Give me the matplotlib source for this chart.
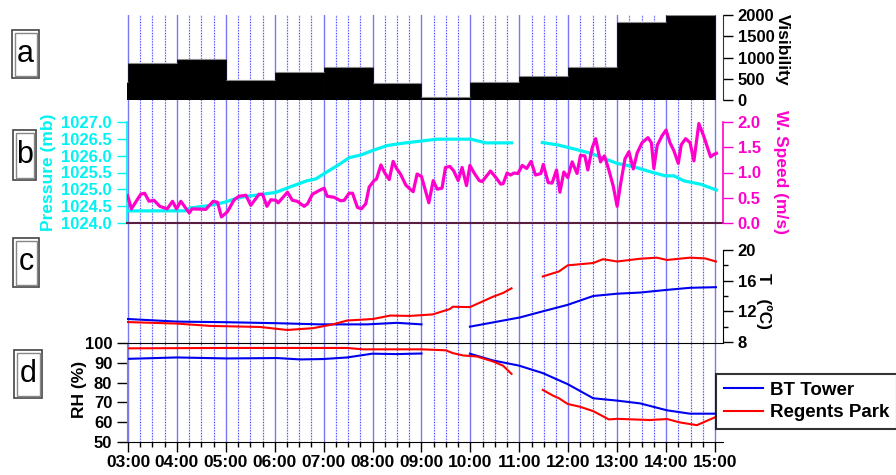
import numpy as np
import matplotlib
matplotlib.use('Agg')
import matplotlib.pyplot as plt
from matplotlib.patches import Rectangle
from matplotlib.ticker import MultipleLocator, FixedLocator, FormatStrFormatter

plt.rcParams['font.family'] = ['Liberation Sans', 'DejaVu Sans']
plt.rcParams['font.weight'] = 'bold'
plt.rcParams['axes.labelweight'] = 'bold'

# ---------------- data ----------------
hour_ticks = [3, 4, 5, 6, 7, 8, 9, 10, 11, 12, 13, 14, 15]
xtick_labels = ['03:00', '04:00', '05:00', '06:00', '07:00', '08:00', '09:00',
                '10:00', '11:00', '12:00', '13:00', '14:00', '15:00']

vis_hours = [2, 3, 4, 5, 6, 7, 8, 9, 10, 11, 12, 13, 14]
visibility = [420, 860, 960, 465, 667, 767, 410, 80, 420, 565, 767, 1845, 2000]

ws_time = [2.99, 3.07, 3.26, 3.34, 3.43, 3.53, 3.65, 3.80, 3.91, 3.99, 4.08, 4.25, 4.31,
           4.59, 4.74, 4.83, 4.91, 5.03, 5.17, 5.27, 5.41, 5.51, 5.68, 5.75, 5.84, 5.92,
           6.02, 6.07, 6.26, 6.36, 6.46, 6.60, 6.67, 6.77, 6.90, 7.01, 7.07, 7.21, 7.35,
           7.42, 7.52, 7.59, 7.69, 7.77, 7.86, 7.93, 8.03, 8.08, 8.17, 8.25, 8.34, 8.42,
           8.49, 8.57, 8.68, 8.78, 8.83, 8.91, 9.00, 9.15, 9.24, 9.32, 9.42, 9.49, 9.58,
           9.66, 9.75, 9.83, 9.92, 9.99, 10.07, 10.18, 10.24, 10.41, 10.52, 10.62, 10.67,
           10.75, 10.82, 10.89, 10.97, 11.06, 11.15, 11.24, 11.33, 11.44, 11.49, 11.59,
           11.67, 11.76, 11.83, 11.91, 11.99, 12.08, 12.18, 12.25, 12.34, 12.40, 12.49,
           12.56, 12.66, 12.74, 12.83, 12.92, 13.00, 13.07, 13.16, 13.24, 13.33, 13.41,
           13.51, 13.63, 13.70, 13.75, 13.82, 13.92, 14.00, 14.08, 14.16, 14.25, 14.31,
           14.40, 14.49, 14.57, 14.67, 14.77, 14.91, 14.98, 15.03]
wind_speed = [0.54, 0.28, 0.57, 0.59, 0.43, 0.45, 0.33, 0.28, 0.43, 0.28, 0.43, 0.20, 0.28,
              0.27, 0.43, 0.41, 0.12, 0.22, 0.46, 0.53, 0.55, 0.35, 0.57, 0.57, 0.33, 0.46,
              0.45, 0.40, 0.61, 0.45, 0.43, 0.33, 0.38, 0.57, 0.64, 0.69, 0.53, 0.51, 0.44,
              0.45, 0.59, 0.59, 0.31, 0.28, 0.38, 0.71, 0.84, 0.87, 1.15, 0.99, 0.86, 1.22,
              1.08, 0.97, 0.75, 0.66, 0.62, 0.97, 0.92, 0.40, 0.84, 0.67, 0.69, 1.10, 1.12,
              1.03, 0.84, 1.10, 0.74, 1.14, 1.00, 0.84, 0.82, 1.03, 0.90, 0.77, 0.78,
              0.99, 0.95, 0.99, 0.98, 1.14, 1.08, 1.22, 0.95, 0.98, 1.16, 0.80,
              0.79, 1.05, 0.61, 1.01, 0.90, 1.21, 0.98, 1.34, 1.33, 1.05, 1.49,
              1.67, 1.21, 1.33, 1.05, 0.73, 0.33, 0.77, 1.27, 1.41, 1.07, 1.39,
              1.59, 1.69, 1.59, 1.08, 1.54, 1.73, 1.84, 1.59, 1.43, 1.18, 1.55,
              1.67, 1.59, 1.23, 1.97, 1.72, 1.31, 1.36, 1.38]

p_time = [2.97, 4.17, 4.28, 4.62, 4.96, 5.17, 5.37, 5.64, 6.02, 6.33, 6.67, 6.84, 7.07,
          7.35, 7.52, 7.76, 8.03, 8.30, 8.57, 8.85, 9.32, 10.01, 10.31, 10.84, 11.2,
          11.47, 11.78, 12.12, 12.46, 12.73, 13.00, 13.34, 13.68, 13.99, 14.16, 14.37,
          14.71, 15.03]
pressure = [1024.36, 1024.36, 1024.45, 1024.51, 1024.61, 1024.71, 1024.78, 1024.83,
            1024.91, 1025.08, 1025.26, 1025.31, 1025.52, 1025.77, 1025.94, 1026.02,
            1026.17, 1026.30, 1026.36, 1026.41, 1026.49, 1026.49, 1026.38, 1026.38, np.nan,
            1026.39, 1026.32, 1026.20, 1026.07, 1025.92, 1025.77, 1025.67, 1025.52,
            1025.40, 1025.40, 1025.25, 1025.15, 1024.98]

tbt_time = [3.00, 4.00, 5.02, 6.05, 6.92, 7.89, 8.50, 9.00, 9.5, 9.99, 11.01, 11.48,
            11.99, 12.51, 13.00, 13.47, 14.02, 14.49, 15.02]
temp_bt = [11.0, 10.66, 10.58, 10.45, 10.3, 10.3, 10.5, 10.3, np.nan, 10.0, 11.2, 12.0,
           12.85, 14.0, 14.3, 14.45, 14.8, 15.07, 15.15]

trp_time = [3.00, 4.00, 4.68, 5.70, 6.25, 6.78, 7.19, 7.48, 8.01, 8.36, 8.76, 9.23, 9.58,
            9.64, 9.99, 10.46, 10.67, 10.84, 11.2, 11.48, 11.81, 11.99, 12.51, 12.71,
            13.00, 13.47, 13.81, 14.02, 14.49, 14.80, 15.02]
temp_rp = [10.6, 10.4, 10.1, 9.96, 9.57, 9.8, 10.3, 10.8, 11.0, 11.45, 11.4, 11.6, 12.3,
           12.6, 12.55, 13.9, 14.4, 15.0, np.nan, 16.55, 17.2, 18.0, 18.3, 18.8,
           18.5, 18.86, 19.0, 18.7, 19.0, 18.9, 18.5]

rhbt_time = [3.00, 4.00, 5.02, 6.05, 6.52, 6.99, 7.48, 7.99, 8.50, 9.00, 9.5, 9.99, 10.46,
             10.99, 11.48, 11.99, 12.51, 13.00, 13.47, 14.02, 14.49, 15.02]
rh_bt = [92.0, 92.7, 92.2, 92.4, 91.7, 91.9, 92.7, 94.6, 94.4, 94.7, np.nan, 94.6, 91.2,
         88.6, 84.8, 79.2, 72.1, 70.9, 69.5, 66.0, 64.3, 64.3]

rhrp_time = [3.00, 5.00, 7.48, 7.80, 9.01, 9.50, 9.64, 9.85, 10.13, 10.46, 10.67, 10.84,
             11.2, 11.48, 11.69, 11.81, 11.99, 12.24, 12.51, 12.83, 13.00, 13.67, 14.02,
             14.28, 14.63, 15.02]
rh_rp = [97.3, 97.5, 97.5, 96.8, 96.8, 96.3, 94.9, 93.7, 93.2, 90.7, 88.5, 84.4,
         np.nan, 76.3, 73.4, 72.1, 69.2, 67.8, 65.6, 61.4, 61.7, 61.1, 61.6,
         59.9, 58.5, 62.7]

# ---------------- layout ----------------
W, H = 896, 475
fig = plt.figure(figsize=(W / 100, H / 100), dpi=100)
L, R = 126.5, 723
XMIN, XMAX = 2.969, 15.164


def fx(x):
    return x / W


def fy(y):
    return 1 - y / H


def add_ax(top, bottom, **kw):
    return fig.add_axes([fx(L), fy(bottom), (R - L) / W, (bottom - top) / H], **kw)


CYAN = '#00f2f2'
MAG = '#ff00cc'
BLUE = '#0000ee'
RED = '#ff0000'
TS = 12

# background grid
ax_g = add_ax(15, 442)
ax_g.set_xlim(XMIN, XMAX)
ax_g.set_ylim(0, 1)
ax_g.axis('off')
for h in np.arange(3, 15.01, 0.25):
    if abs(h - round(h)) < 1e-6:
        ax_g.axvline(h, color='#7878f2', lw=1.0)
    else:
        ax_g.axvline(h, color='#dcdcff', lw=1.0)
        ax_g.axvline(h, color='#4a4aff', lw=0.8, ls=(0, (1, 1.5)))


def common(ax):
    ax.set_xlim(XMIN, XMAX)
    ax.set_facecolor('none')
    ax.tick_params(axis='x', which='both', bottom=False, top=False, labelbottom=False)


# panel a
ax_a = add_ax(15, 100)
common(ax_a)
ax_a.bar(vis_hours, visibility, width=1, align='edge', color='black',
         edgecolor='black', linewidth=0.5, zorder=3)
ax_a.hlines(visibility, vis_hours, np.array(vis_hours) + 1, color='#8a8a8a',
            lw=0.8, zorder=4)
ax_a.set_ylim(0, 2000)
for s in ['left', 'top', 'bottom']:
    ax_a.spines[s].set_visible(False)
ax_a.spines['right'].set_color('#333333')
ax_a.yaxis.tick_right()
ax_a.yaxis.set_major_locator(MultipleLocator(500))
ax_a.tick_params(axis='y', direction='out', length=7.2, width=1, labelsize=TS, pad=3.5)
ax_a.set_ylabel('Visibility', rotation=270, fontsize=12.5, va='center')
ax_a.yaxis.set_label_position('right')
ax_a.yaxis.set_label_coords(1.112, 0.59)

# panel b
ax_b = add_ax(122, 223)
common(ax_b)
ax_b.plot(p_time, pressure, color=CYAN, lw=2.3, zorder=2)
ax_b.set_ylim(1024, 1027)
ax_b.yaxis.set_major_locator(MultipleLocator(0.5))
ax_b.yaxis.set_major_formatter(FormatStrFormatter('%.1f'))
ax_b.tick_params(axis='y', direction='out', length=7.2, width=1, labelsize=TS,
                 colors=CYAN, pad=3.5)
for s in ['top', 'right']:
    ax_b.spines[s].set_visible(False)
ax_b.spines['left'].set_color(CYAN)
ax_b.spines['left'].set_linewidth(1.2)
ax_b.spines['bottom'].set_color('#5a1f40')
ax_b.spines['bottom'].set_linewidth(1.5)
ax_b.set_ylabel('Pressure (mb)', color=CYAN, fontsize=12.5, va='center')
ax_b.yaxis.set_label_coords(-0.1316, 0.5)

ax_b2 = ax_b.twinx()
common(ax_b2)
ax_b2.plot(ws_time, wind_speed, color=MAG, lw=2.3, zorder=3)
ax_b2.set_ylim(0, 2)
ax_b2.yaxis.set_major_locator(MultipleLocator(0.5))
ax_b2.yaxis.set_major_formatter(FormatStrFormatter('%.1f'))
ax_b2.tick_params(axis='y', direction='out', length=7.2, width=1, labelsize=TS,
                  colors=MAG, pad=3.5)
for s in ['top', 'left', 'bottom']:
    ax_b2.spines[s].set_visible(False)
ax_b2.spines['right'].set_color(MAG)
ax_b2.spines['right'].set_linewidth(1.2)
ax_b2.set_ylabel('W. Speed (m/s)', color=MAG, fontsize=12.5, rotation=270, va='center')
ax_b2.yaxis.set_label_coords(1.097, 0.5)

# panel c
ax_c = add_ax(250, 342)
common(ax_c)
ax_c.plot(tbt_time, temp_bt, color=BLUE, lw=1.5)
ax_c.plot(trp_time, temp_rp, color=RED, lw=1.5)
ax_c.set_ylim(8, 20)
for s in ['left', 'top', 'bottom']:
    ax_c.spines[s].set_visible(False)
ax_c.yaxis.tick_right()
ax_c.yaxis.set_major_locator(MultipleLocator(4))
ax_c.yaxis.set_minor_locator(MultipleLocator(2))
ax_c.tick_params(axis='y', which='major', direction='out', length=7.2, width=1,
                 labelsize=TS, pad=3.5)
ax_c.tick_params(axis='y', which='minor', direction='out', length=3.5, width=1)
ax_c.set_ylabel('T   (ºC)', rotation=270, fontsize=12.5, va='center')
ax_c.yaxis.set_label_position('right')
ax_c.yaxis.set_label_coords(1.082, 0.45)

# panel d
ax_d = add_ax(343, 442)
ax_d.set_xlim(XMIN, XMAX)
ax_d.set_facecolor('none')
l1, = ax_d.plot(rhbt_time, rh_bt, color=BLUE, lw=1.5, label='BT Tower')
l2, = ax_d.plot(rhrp_time, rh_rp, color=RED, lw=1.5, label='Regents Park')
ax_d.set_ylim(50, 100)
ax_d.spines['right'].set_visible(False)
ax_d.spines['left'].set_color('#888888')
ax_d.yaxis.set_major_locator(MultipleLocator(10))
ax_d.tick_params(axis='y', direction='out', length=7.2, width=1, labelsize=TS, pad=3)
ax_d.xaxis.set_major_locator(FixedLocator(hour_ticks))
ax_d.set_xticklabels(xtick_labels)
ax_d.xaxis.set_minor_locator(MultipleLocator(0.25))
ax_d.tick_params(axis='x', which='major', direction='out', length=7, width=1,
                 labelsize=12.5, pad=2.5)
ax_d.tick_params(axis='x', which='minor', direction='out', length=3.5, width=1)
ax_d.set_ylabel('RH (%)', fontsize=12.5, va='center')
ax_d.yaxis.set_label_coords(-0.0796, 0.53)

leg = fig.legend(handles=[l1, l2], loc='upper left',
                 bbox_to_anchor=(fx(716), fy(374)), bbox_transform=fig.transFigure,
                 borderaxespad=0, fancybox=False, frameon=True, edgecolor='black',
                 prop={'weight': 'bold', 'size': 13.5}, handlelength=2.1,
                 handletextpad=0.4, labelspacing=0.3, borderpad=0.4)
leg.get_frame().set_linewidth(1.5)
for ln in leg.get_lines():
    ln.set_linewidth(1.5)

# panel letter boxes
boxes = {'a': (12, 30, 39, 78), 'b': (13, 130, 36, 180),
         'c': (13, 238, 39, 287), 'd': (14, 350, 42, 398)}
for letter, (x0, y0, x1, y1) in boxes.items():
    fig.add_artist(Rectangle((fx(x0), fy(y1)), (x1 - x0) / W, (y1 - y0) / H,
                             transform=fig.transFigure, fill=False,
                             edgecolor='#444444', lw=1.2))
    fig.add_artist(Rectangle((fx(x0 + 2.5), fy(y1 - 2.5)), (x1 - x0 - 5) / W,
                             (y1 - y0 - 5) / H, transform=fig.transFigure,
                             fill=False, edgecolor='#888888', lw=1.0))
    fig.text(fx((x0 + x1) / 2), fy((y0 + y1) / 2), letter, fontsize=22,
             fontweight='normal', ha='center', va='center')

fig.savefig('out.png', dpi=100)
